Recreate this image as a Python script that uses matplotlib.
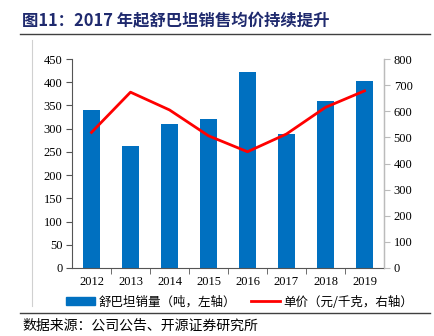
import matplotlib
matplotlib.use("Agg")
import matplotlib.pyplot as plt
from matplotlib.lines import Line2D
from matplotlib.patches import Patch
import numpy as np

plt.rcParams['font.family'] = ['Noto Sans CJK SC', 'DejaVu Sans']

years = ['2012', '2013', '2014', '2015', '2016', '2017', '2018', '2019']
volume = [341, 263, 309, 321, 421, 289, 360, 403]      # 吨
price = [519, 673, 605, 506, 445, 513, 615, 678]       # 元/千克

title = '图11：2017 年起舒巴坦销售均价持续提升'
source = '数据来源：公司公告、开源证券研究所'
vol_label = '舒巴坦销量（吨，左轴）'
price_label = '单价（元/千克，右轴）'

bar_color = '#0070C0'
line_color = '#FF0000'
serif = ['Liberation Serif', 'DejaVu Serif']

fig = plt.figure(figsize=(4.34, 3.36), dpi=100)
ax = fig.add_axes([72/434, 1-268/336, 312/434, 209/336])
ax2 = ax.twinx()

x = np.arange(len(years))
ax.bar(x, volume, width=0.45, color=bar_color, zorder=2)
ax2.plot(x, price, color=line_color, lw=2, zorder=3)

ax.set_xlim(-0.5, len(years) - 0.5)
ax.set_ylim(0, 450)
ax.set_yticks(np.arange(0, 451, 50))
ax2.set_ylim(0, 800)
ax2.set_yticks(np.arange(0, 801, 100))

ax.set_xticks(x)
ax.set_xticklabels(years, fontfamily=serif, fontsize=9)
ax.set_xticks(np.arange(0.5, len(years) - 0.5), minor=True)
ax.tick_params(axis='x', which='major', length=0, pad=6)
ax.tick_params(axis='x', which='minor', length=4, direction='out', color='#555555')
ax.tick_params(axis='y', length=4, color='#555555', pad=3)
ax2.tick_params(axis='y', length=4, color='#BBBBBB', pad=3)
for lab in ax.get_yticklabels() + ax2.get_yticklabels():
    lab.set_fontfamily(serif)
    lab.set_fontsize(9)

ax.spines['top'].set_visible(False)
ax2.spines['top'].set_visible(False)
ax.spines['left'].set_color('#555555')
ax.spines['bottom'].set_color('#555555')
ax2.spines['right'].set_color('#BBBBBB')
ax2.spines['left'].set_visible(False)
ax2.spines['bottom'].set_visible(False)

# title, frame lines, legend, source
fig.text(22/434, 1-21/336, title, fontsize=11.8, fontweight='bold',
         color='#1F2A6E', va='center', ha='left')
fig.add_artist(Line2D([20/434, 430/434], [1-34/336, 1-34/336], color='#404040', lw=1))
fig.add_artist(Line2D([32/434, 32/434], [1-40/336, 1-306/336], color='#D0D0D0', lw=0.8))
fig.add_artist(Line2D([20/434, 430/434], [1-313/336, 1-313/336], color='#404040', lw=1))
fig.text(22/434, 1-326/336, source, fontsize=10, color='#000000', va='center', ha='left')

handles = [Patch(color=bar_color, label=vol_label),
           Line2D([], [], color=line_color, lw=2, label=price_label)]
fig.legend(handles=handles, loc='center', bbox_to_anchor=(240/434, 1-302/336),
           ncol=2, frameon=False, fontsize=9, handlelength=2.3, handleheight=0.6,
           columnspacing=1.2, handletextpad=0.3, borderpad=0)

fig.savefig('out.png', dpi=100)
